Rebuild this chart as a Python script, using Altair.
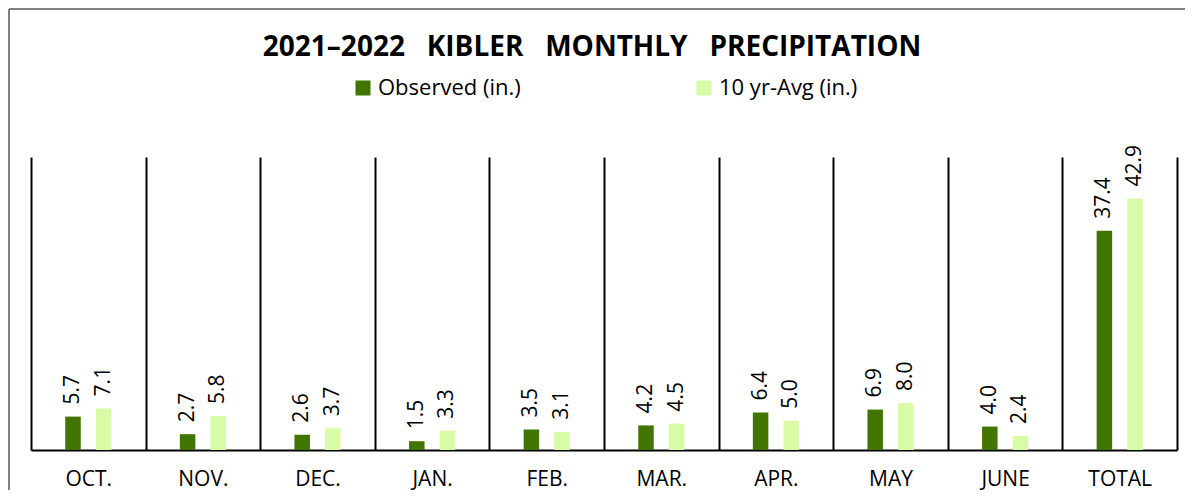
import altair as alt
import pandas as pd

months = ["OCT.", "NOV.", "DEC.", "JAN.", "FEB.", "MAR.", "APR.", "MAY", "JUNE", "TOTAL"]
observed = [5.7, 2.7, 2.6, 1.5, 3.5, 4.2, 6.4, 6.9, 4.0, 37.4]
ten_yr_avg = [7.1, 5.8, 3.7, 3.3, 3.1, 4.5, 5.0, 8.0, 2.4, 42.9]
series = ["Observed (in.)", "10 yr-Avg (in.)"]
colors = ["#427500", "#d8fba6"]
title_words = ["2021–2022", "KIBLER", "MONTHLY", "PRECIPITATION"]

rows = []
for m, o, a in zip(months, observed, ten_yr_avg):
    rows.append({"category": m, "series": series[0], "value": o})
    rows.append({"category": m, "series": series[1], "value": a})
df = pd.DataFrame(rows)

FONT = "Open Sans"
title_text = "\u00a0\u00a0\u00a0".join(title_words)

base = alt.Chart(df).encode(
    x=alt.X(
        "category:N",
        sort=months,
        scale=alt.Scale(paddingInner=0, paddingOuter=0),
        axis=alt.Axis(
            title=None, tickBand="extent", grid=True, gridColor="black", gridWidth=2,
            ticks=False, domainColor="black", domainWidth=2, labelAngle=0,
            labelFont=FONT, labelFontSize=21, labelColor="black", labelPadding=18,
        ),
    ),
    xOffset=alt.XOffset(
        "series:N", sort=series,
        scale=alt.Scale(domain=series, paddingInner=0.255, paddingOuter=1),
    ),
    y=alt.Y("value:Q", scale=alt.Scale(domain=[0, 50]), axis=None),
)

bars = base.mark_bar(width=15.5).encode(
    color=alt.Color(
        "series:N",
        sort=series,
        scale=alt.Scale(domain=series, range=colors),
        legend=alt.Legend(
            orient="none", legendX=321, legendY=-80, direction="horizontal",
            title=None, symbolType="square", symbolSize=225, symbolStrokeWidth=0,
            labelFont=FONT, labelFontSize=22, labelColor="black", labelOffset=4,
            columnPadding=172,
        ),
    )
)

labels = base.mark_text(
    angle=270, align="left", baseline="middle", dx=12,
    font=FONT, fontSize=21, color="black",
).encode(text=alt.Text("value:Q", format=".1f"))

frame_data = pd.DataFrame({"a": [0]})
border_top = alt.Chart(frame_data).mark_rule(stroke="#808080", strokeWidth=2).encode(
    x=alt.value(-22), x2=alt.value(1400), y=alt.value(-148)
)
border_left = alt.Chart(frame_data).mark_rule(stroke="#808080", strokeWidth=2).encode(
    x=alt.value(-22), y=alt.value(-148), y2=alt.value(600)
)

chart = alt.layer(border_top, border_left, bars, labels).properties(
    width=1146,
    height=293,
    autosize=alt.AutoSizeParams(type="none"),
    padding={"left": 23, "top": 149, "right": 8, "bottom": 40},
    title=alt.Title(
        title_text,
        font=FONT, fontSize=28, fontWeight="bold", color="black",
        anchor="middle", offset=-54, dx=-12,
    ),
).configure_view(stroke=None)

chart.save("out.html", embed_options={"renderer": "svg", "actions": False})
